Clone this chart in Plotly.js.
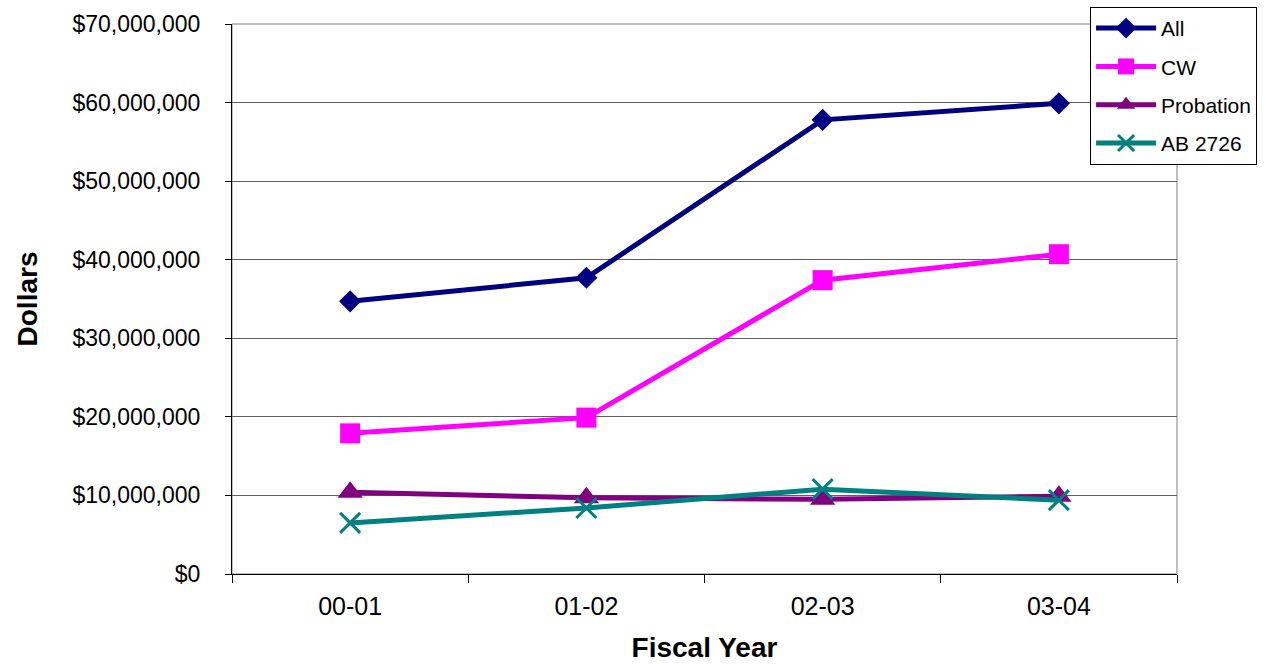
<!DOCTYPE html>
<html>
<head>
<meta charset="utf-8">
<script src="https://cdn.plot.ly/plotly-3.0.1.min.js"></script>
<style>html,body{margin:0;padding:0;background:#fff;}#chart{width:1268px;height:664px;}</style>
</head>
<body>
<div id="chart"></div>
<script>
const years = ["00-01", "01-02", "02-03", "03-04"];
const allVals = [34700000, 37700000, 57800000, 59900000];
const cwVals = [17900000, 19900000, 37400000, 40700000];
const probationVals = [10400000, 9700000, 9500000, 9900000];
const ab2726Vals = [6500000, 8400000, 10800000, 9400000];
const seriesNames = ["All", "CW", "Probation", "AB 2726"];
const tickVals = [0, 10000000, 20000000, 30000000, 40000000, 50000000, 60000000, 70000000];

const traces = [
  {name: seriesNames[0], legendgroup: "g1", x: years, y: allVals, mode: "lines+markers",
   line: {color: "#000080", width: 5}, marker: {symbol: "diamond", size: 17, color: "#000080"}},
  {name: seriesNames[1], legendgroup: "g2", x: years, y: cwVals, mode: "lines+markers",
   line: {color: "#FF00FF", width: 5}, marker: {symbol: "square", size: 20, color: "#FF00FF"}},
  {name: seriesNames[2], legendgroup: "g3", x: years, y: probationVals, mode: "lines+markers",
   line: {color: "#800080", width: 5}, marker: {symbol: "triangle-up", size: 22, color: "#800080"}},
  {name: seriesNames[3], legendgroup: "g4", x: years, y: ab2726Vals, mode: "lines+markers",
   line: {color: "#008080", width: 5}, marker: {symbol: "x-thin-open", size: 20, color: "#008080", line: {color: "#008080", width: 3}}}
];

const layout = {
  width: 1268, height: 664,
  margin: {l: 232, r: 91, t: 24, b: 90, autoexpand: false},
  paper_bgcolor: "#fff", plot_bgcolor: "#fff",
  font: {family: "Liberation Sans, Arial, sans-serif", color: "#000"},
  showlegend: true,
  legend: {x: 0.908, y: 1.031, xanchor: "left", yanchor: "top",
           bordercolor: "#000", borderwidth: 1, bgcolor: "#fff",
           font: {size: 21}, tracegroupgap: 8, itemwidth: 60},
  xaxis: {
    type: "category", categoryorder: "array", categoryarray: years,
    range: [-0.5, 3.5],
    tickson: "boundaries", ticks: "outside", ticklen: 8, tickcolor: "#000",
    showline: true, linecolor: "#000", linewidth: 1, mirror: false,
    showgrid: false, tickfont: {size: 25}, ticklabelstandoff: 10,
    title: {text: "Fiscal Year", font: {size: 28, weight: "bold"}, standoff: 18}
  },
  yaxis: {
    range: [0, 70000000], tickvals: tickVals, tickformat: "$,.0f",
    ticks: "outside", ticklen: 6, tickcolor: "#000",
    showline: true, linecolor: "#000", linewidth: 1,
    showgrid: true, gridcolor: "#606060", gridwidth: 1, zeroline: false,
    tickfont: {size: 23}, ticklabelstandoff: 20,
    title: {text: "Dollars", font: {size: 28, weight: "bold"}, standoff: 26}
  },
  shapes: [
    {type: "rect", xref: "paper", yref: "paper", x0: 0, x1: 1, y0: 0, y1: 1,
     line: {color: "#808080", width: 1}, layer: "below"}
  ]
};

Plotly.newPlot("chart", traces, layout, {displayModeBar: false});
</script>
</body>
</html>
